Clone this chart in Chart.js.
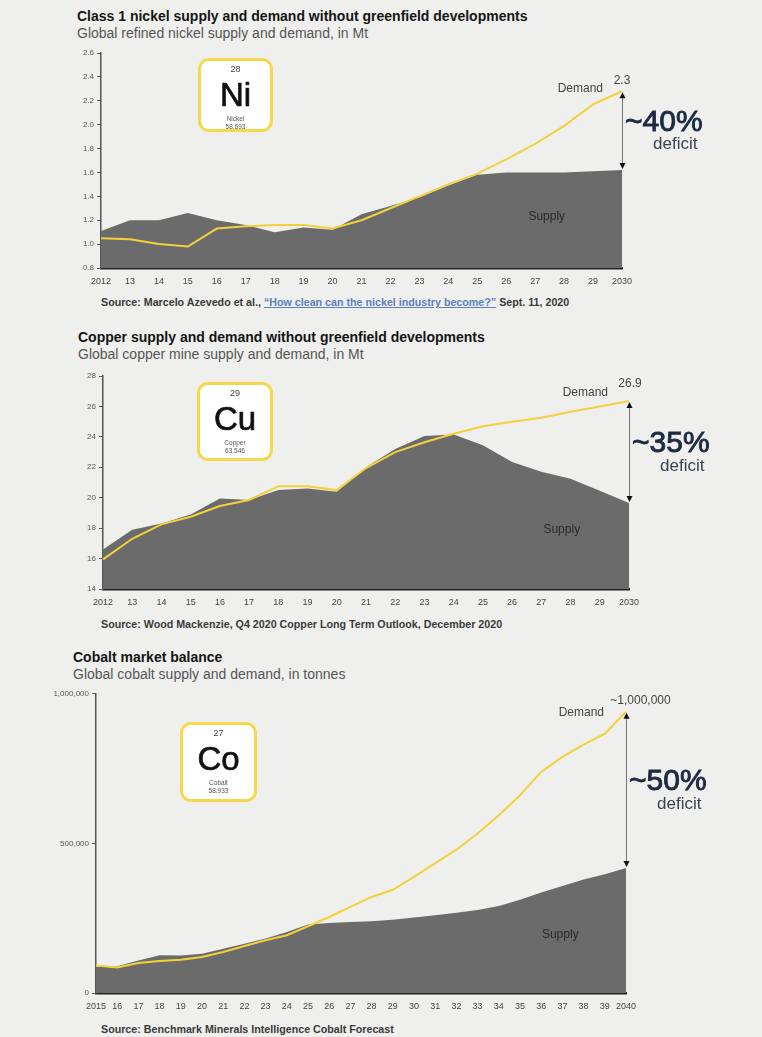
<!DOCTYPE html>
<html><head><meta charset="utf-8">
<script src="https://cdn.jsdelivr.net/npm/chart.js@4.4.1/dist/chart.umd.min.js"></script>
<style>
html,body{margin:0;padding:0;background:#efefed;}
#wrap{position:relative;width:762px;height:1037px;overflow:hidden;background:#efefed;font-family:"Liberation Sans",Arial,sans-serif;}
.t{position:absolute;font-weight:bold;font-size:14px;line-height:16px;color:#151515;white-space:nowrap;}
.s{position:absolute;font-size:14px;line-height:16px;color:#555;white-space:nowrap;}
.src{position:absolute;left:101px;font-size:10.7px;line-height:12px;font-weight:bold;color:#3a3a3a;white-space:nowrap;}
.src a{color:#5b7fc0;text-decoration:underline;}
canvas{position:absolute;left:0;}
.el{position:absolute;box-sizing:border-box;border:3px solid #f6d84f;border-radius:11px;background:#fff;text-align:center;}
.el div{position:absolute;left:0;right:0;text-align:center;white-space:nowrap;}
.el .num{top:3px;font-size:9px;line-height:10px;color:#444;}
.el .sym{top:17px;font-size:33px;line-height:34px;color:#111;-webkit-text-stroke:0.7px #111;}
.el .nm{top:54px;font-size:6.5px;line-height:7.5px;color:#555;}
</style></head>
<body><div id="wrap">
<div class="t" style="left:77px;top:8px">Class 1 nickel supply and demand without greenfield developments</div>
<div class="s" style="left:77px;top:25px">Global refined nickel supply and demand, in Mt</div>
<canvas id="c1" width="762" height="250" style="top:45px"></canvas>
<div class="el" style="left:198px;top:58px;width:75px;height:74px"><div class="num">28</div><div class="sym">Ni</div><div class="nm">Nickel<br>58.693</div></div>
<div class="src" style="top:296px">Source: Marcelo Azevedo et al., <a>“How clean can the nickel industry become?”</a> Sept. 11, 2020</div>

<div class="t" style="left:78px;top:329px">Copper supply and demand without greenfield developments</div>
<div class="s" style="left:78px;top:346px">Global copper mine supply and demand, in Mt</div>
<canvas id="c2" width="762" height="250" style="top:368px"></canvas>
<div class="el" style="left:197px;top:382px;width:76px;height:79px"><div class="num">29</div><div class="sym">Cu</div><div class="nm">Copper<br>63.546</div></div>
<div class="src" style="top:618px">Source: Wood Mackenzie, Q4 2020 Copper Long Term Outlook, December 2020</div>

<div class="t" style="left:73px;top:649px">Cobalt market balance</div>
<div class="s" style="left:73px;top:666px">Global cobalt supply and demand, in tonnes</div>
<canvas id="c3" width="762" height="335" style="top:686px"></canvas>
<div class="el" style="left:180px;top:722px;width:77px;height:80px"><div class="num">27</div><div class="sym">Co</div><div class="nm">Cobalt<br>58.933</div></div>
<div class="src" style="top:1023px">Source: Benchmark Minerals Intelligence Cobalt Forecast</div>
</div>
<script>
// ---- Data ----
const niYears = ['2012','13','14','15','16','17','18','19','20','21','22','23','24','25','26','27','28','29','2030'];
const niSupply = [1.11,1.20,1.20,1.26,1.20,1.16,1.10,1.14,1.12,1.25,1.32,1.39,1.49,1.58,1.60,1.60,1.60,1.61,1.62];
const niDemand = [1.05,1.04,1.00,0.98,1.13,1.15,1.16,1.16,1.13,1.20,1.30,1.40,1.50,1.59,1.71,1.84,1.99,2.17,2.28];

const cuYears = ['2012','13','14','15','16','17','18','19','20','21','22','23','24','25','26','27','28','29','2030'];
const cuSupply = [16.6,17.9,18.3,18.9,19.95,19.85,20.5,20.6,20.4,22.0,23.2,24.05,24.15,23.45,22.35,21.7,21.25,20.45,19.65];
const cuDemand = [15.95,17.3,18.25,18.75,19.45,19.85,20.75,20.75,20.5,21.95,23.0,23.65,24.2,24.7,25.0,25.25,25.65,26.0,26.35];

const coYears = ['2015','16','17','18','19','20','21','22','23','24','25','26','27','28','29','30','31','32','33','34','35','36','37','38','39','2040'];
const coSupply = [87000,89000,109000,126000,125000,131000,148000,165000,182000,204000,229000,234000,237000,240000,245000,252000,260000,268000,277000,291000,312000,336000,358000,379000,397000,418000];
const coDemand = [92000,85000,100000,107000,111000,120000,137000,157000,176000,193000,223000,254000,288000,321000,345000,388000,434000,479000,533000,594000,661000,739000,789000,830000,867000,940000];

const niTicks = {min:0.8, max:2.6, step:0.2};
const cuTicks = {min:14, max:28, step:2};
const coTicks = {min:0, max:1000000, step:500000};

// ---- Drawing ----
const FONT = '"Liberation Sans", Arial, sans-serif';
const YELLOW = '#f3d13b', GREY = '#6b6b6b';

function annot(o){
  return {
    id:'annot',
    afterDatasetsDraw(chart){
      const ctx = chart.ctx;
      const d = chart.getDatasetMeta(0).data, s = chart.getDatasetMeta(1).data;
      const pd = d[d.length-1], ps = s[s.length-1];
      const x = pd.x, y1 = pd.y, y2 = ps.y;
      ctx.save();
      ctx.strokeStyle = '#777'; ctx.lineWidth = 1;
      ctx.beginPath(); ctx.moveTo(x+0.5, y1+5); ctx.lineTo(x+0.5, y2-5); ctx.stroke();
      ctx.fillStyle = '#111';
      ctx.beginPath(); ctx.moveTo(x+0.5, y1+1); ctx.lineTo(x-2.5, y1+7); ctx.lineTo(x+3.5, y1+7); ctx.closePath(); ctx.fill();
      ctx.beginPath(); ctx.moveTo(x+0.5, y2-1); ctx.lineTo(x-2.5, y2-7); ctx.lineTo(x+3.5, y2-7); ctx.closePath(); ctx.fill();
      const mid = (y1+y2)/2;
      ctx.textBaseline = 'middle'; ctx.textAlign = 'left';
      ctx.fillStyle = '#1c2a43'; ctx.strokeStyle = '#1c2a43'; ctx.lineWidth = 0.9;
      ctx.font = '30px ' + FONT;
      ctx.fillText(o.pct, x+3, mid-8);
      ctx.strokeText(o.pct, x+3, mid-8);
      ctx.fillStyle = '#3b4252'; ctx.font = '17px ' + FONT;
      ctx.fillText('deficit', x+31, mid+14);
      ctx.fillStyle = '#444'; ctx.font = '12px ' + FONT;
      ctx.textAlign = 'right';
      ctx.fillText('Demand', x+o.demDx, y1+o.demDy);
      ctx.textAlign = 'center';
      ctx.fillText(o.val, x+o.valDx, y1+o.valDy);
      ctx.fillStyle = '#2a2a2a';
      ctx.fillText('Supply', chart.scales.x.getPixelForValue(o.supX), chart.scales.y.getPixelForValue(o.supY));
      ctx.restore();
    }
  };
}

function make(id, labels, supply, demand, ticks, fmt, lay, o){
  new Chart(document.getElementById(id), {
    type:'line',
    data:{labels, datasets:[
      {label:'Demand', data:demand, borderColor:YELLOW, borderWidth:2, pointRadius:0, fill:false, tension:0},
      {label:'Supply', data:supply, borderColor:'rgba(0,0,0,0)', borderWidth:0, backgroundColor:GREY, pointRadius:0, fill:'start', tension:0}
    ]},
    options:{
      responsive:false, animation:false, devicePixelRatio:1,
      layout:{padding:{top:lay.top, right:lay.right, left:0, bottom:0}},
      plugins:{legend:{display:false}, tooltip:{enabled:false}},
      scales:{
        x:{
          grid:{display:false, drawTicks:false},
          border:{display:true, color:'#222', width:2.5},
          ticks:{font:{family:FONT, size:9}, color:'#444', padding:8, maxRotation:0, autoSkip:false},
          afterFit:(s)=>{ s.height = lay.xh; }
        },
        y:{
          min:ticks.min, max:ticks.max,
          grid:{drawOnChartArea:false, drawTicks:true, tickLength:4, color:'#555'},
          border:{display:true, color:'#555', width:1.5},
          ticks:{stepSize:ticks.step, font:{family:FONT, size:8}, color:'#555', padding:3, callback:fmt},
          afterFit:(s)=>{ s.width = lay.yw; }
        }
      }
    },
    plugins:[annot(o)]
  });
}

make('c1', niYears, niSupply, niDemand, niTicks, v=>Number(v).toFixed(1),
  {top:8, right:140, xh:27, yw:101},
  {pct:'~40%', val:'2.3', demDx:-19, demDy:-2.5, valDx:0, valDy:-10.5, supX:15.4, supY:1.226});
make('c2', cuYears, cuSupply, cuDemand, cuTicks, v=>String(v),
  {top:8, right:133, xh:29, yw:103},
  {pct:'~35%', val:'26.9', demDx:-21, demDy:-8.7, valDx:1, valDy:-17.7, supX:15.7, supY:17.9});
make('c3', coYears, coSupply, coDemand, coTicks, v=>Number(v).toLocaleString('en-US'),
  {top:7.5, right:136, xh:28, yw:96},
  {pct:'~50%', val:'~1,000,000', demDx:-22, demDy:1, valDx:14.5, valDy:-11.5, supX:21.9, supY:195000});
</script>
</body></html>
